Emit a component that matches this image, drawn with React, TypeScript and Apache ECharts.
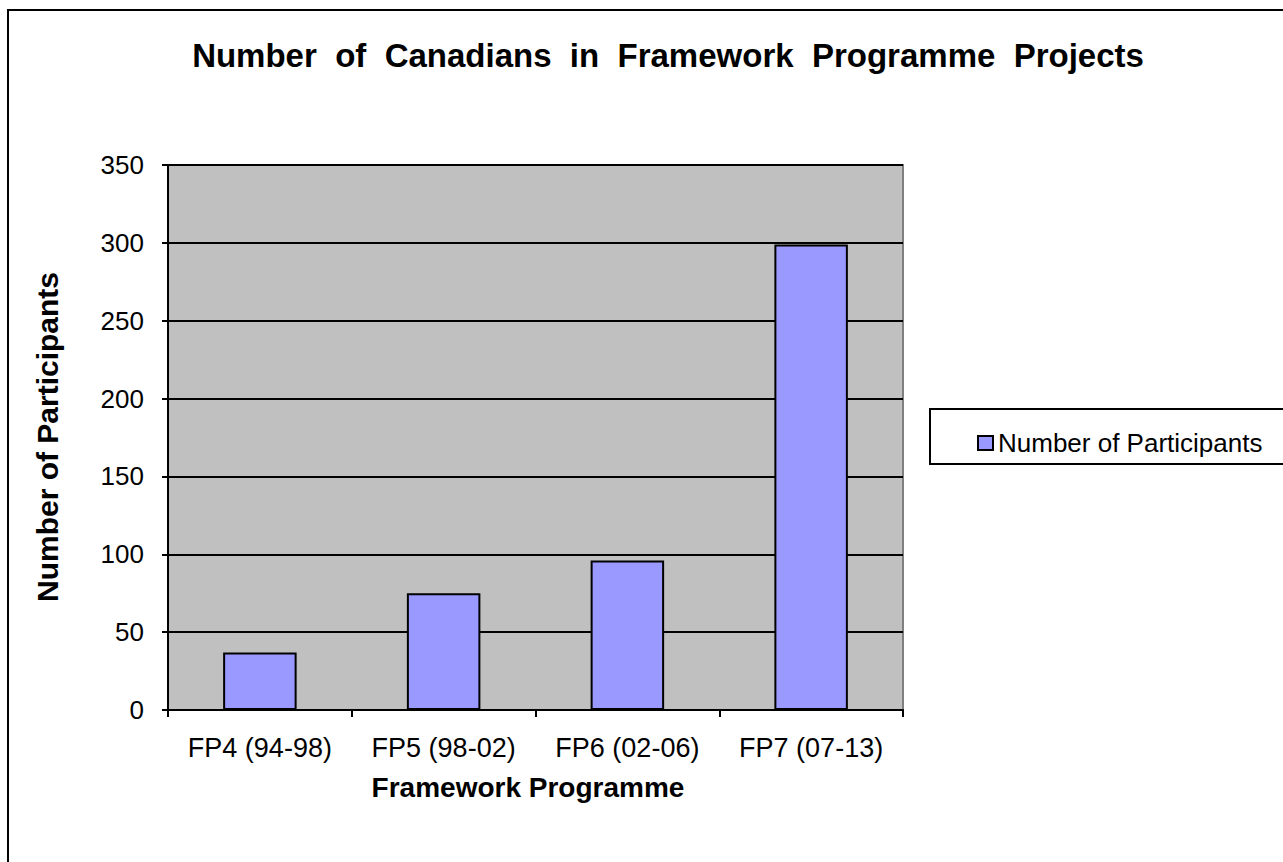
import React, { useEffect, useRef } from "react";
import * as echarts from "echarts";

const categories = ["FP4 (94-98)", "FP5 (98-02)", "FP6 (02-06)", "FP7 (07-13)"];
const participants = [37, 75, 96, 299];
const seriesName = "Number of Participants";
const titleText = "Number  of  Canadians  in  Framework  Programme  Projects";
const xAxisName = "Framework Programme";
const yAxisName = "Number of Participants";
const yTicks = { min: 0, max: 350, interval: 50 };

const FONT = "Liberation Sans, Arial, sans-serif";

export default function App() {
  const ref = useRef<HTMLDivElement>(null);
  useEffect(() => {
    const chart = echarts.init(ref.current!, null, { renderer: "svg" });
    chart.setOption({
      animation: false,
      backgroundColor: "#ffffff",
      textStyle: { fontFamily: FONT },
      title: {
        text: titleText,
        left: 663,
        top: 34,
        textAlign: "center",
        textStyle: { fontSize: 33, fontWeight: "bold", color: "#000", fontFamily: FONT },
      },
      legend: {
        data: [seriesName],
        left: 972,
        top: 425,
        itemWidth: 15,
        itemHeight: 14,
        icon: "rect",
        textStyle: { fontSize: 26, color: "#000", fontFamily: FONT },
      },
      graphic: [
        {
          type: "rect",
          shape: { x: 8, y: 10, width: 1300, height: 900 },
          style: { fill: "none", stroke: "#000", lineWidth: 2 },
          z: -1,
        },
        {
          type: "rect",
          shape: { x: 930, y: 409, width: 400, height: 55 },
          style: { fill: "#fff", stroke: "#000", lineWidth: 2 },
          z: 0,
        },
        {
          type: "text",
          x: 528,
          y: 787,
          style: {
            text: xAxisName,
            fontSize: 28,
            fontWeight: "bold",
            fill: "#000",
            align: "center",
            verticalAlign: "middle",
            fontFamily: FONT,
          },
        },
        {
          type: "text",
          x: 47,
          y: 437,
          rotation: Math.PI / 2,
          style: {
            text: yAxisName,
            fontSize: 30,
            fontWeight: "bold",
            fill: "#000",
            align: "center",
            verticalAlign: "middle",
            fontFamily: FONT,
          },
        },
      ],
      grid: {
        left: 168,
        top: 165,
        width: 735,
        height: 545,
        show: true,
        backgroundColor: "#C0C0C0",
        borderColor: "#808080",
        borderWidth: 2,
      },
      xAxis: {
        type: "category",
        data: categories,
        axisLine: { show: true, lineStyle: { color: "#000", width: 2 } },
        axisTick: { show: true, interval: 0, alignWithLabel: false, length: 7, lineStyle: { color: "#000", width: 2 } },
        axisLabel: { interval: 0, fontSize: 27, color: "#000", margin: 24, fontFamily: FONT },
      },
      yAxis: {
        type: "value",
        min: yTicks.min,
        max: yTicks.max,
        interval: yTicks.interval,
        axisLine: { show: true, lineStyle: { color: "#000", width: 2 } },
        axisTick: { show: true, length: 6, lineStyle: { color: "#000", width: 2 } },
        axisLabel: { fontSize: 26, color: "#000", margin: 24, fontFamily: FONT },
        splitLine: { show: true, lineStyle: { color: "#000", width: 2 } },
      },
      series: [
        {
          name: seriesName,
          type: "bar",
          data: participants,
          barWidth: "40%",
          itemStyle: { color: "#9999FF", borderColor: "#000", borderWidth: 2 },
        },
      ],
    });
    return () => chart.dispose();
  }, []);
  return (
    <div
      ref={ref}
      style={{ position: "fixed", left: 0, top: 0, width: 1283, height: 862 }}
    />
  );
}
